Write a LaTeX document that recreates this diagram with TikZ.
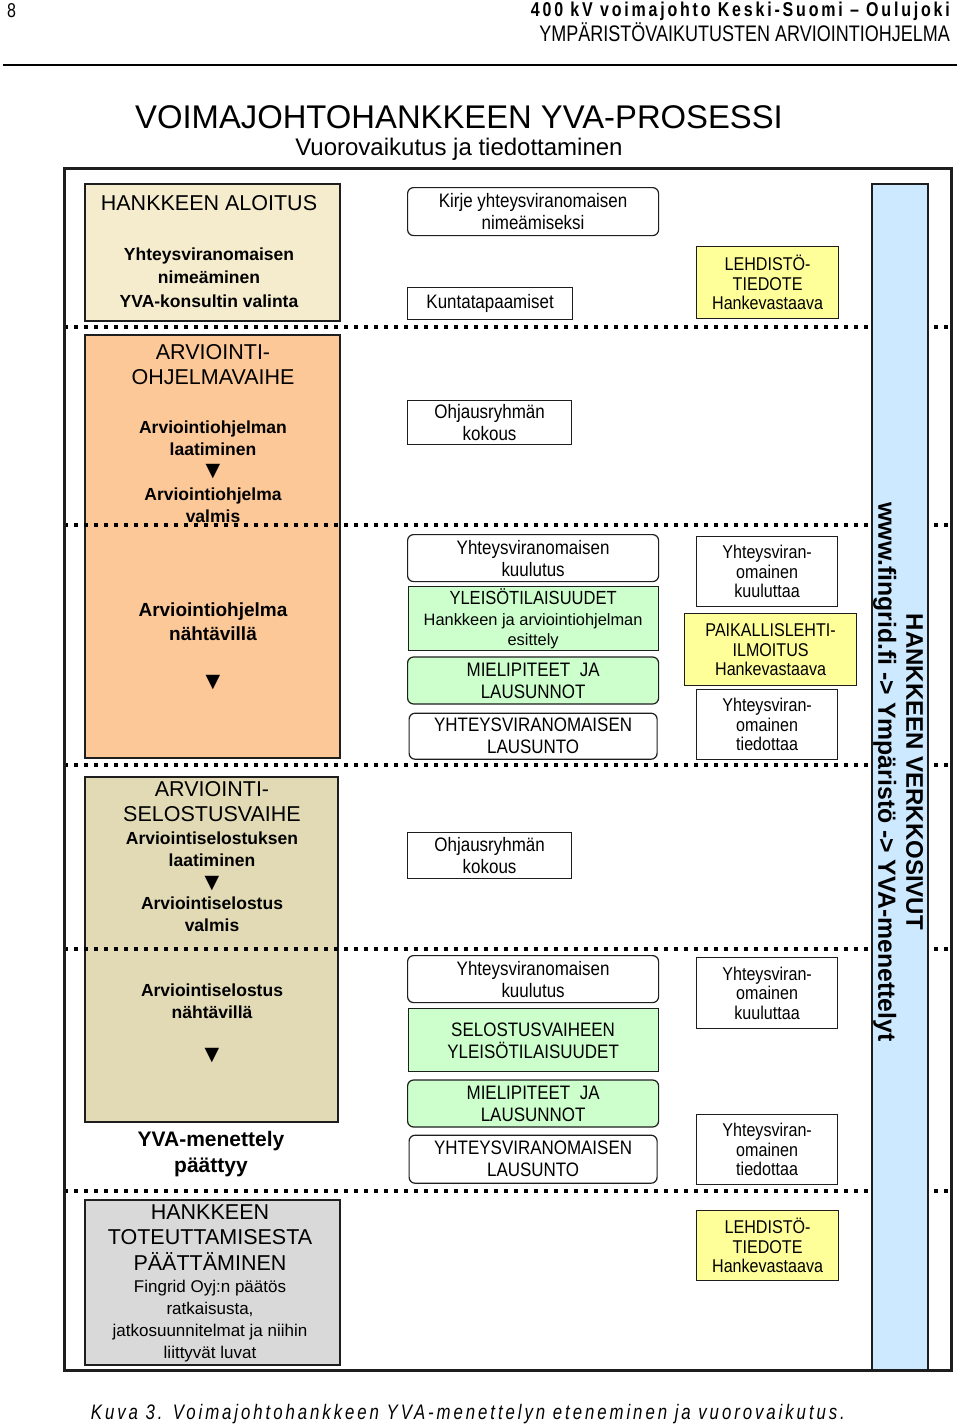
\documentclass[tikz,border=0pt]{standalone}
\usepackage{fontspec}
\setmainfont{Liberation Sans}
\newfontfamily\narrowsf[FakeStretch=0.87]{Liberation Sans}
\newfontfamily\headsf[FakeStretch=0.8]{Liberation Sans}
\newfontfamily\trifont{DejaVu Sans}
\usetikzlibrary{positioning}

\definecolor{aloituscol}{RGB}{245,236,206}
\definecolor{ohjelmacol}{RGB}{252,200,152}
\definecolor{selostuscol}{RGB}{226,218,180}
\definecolor{paatoscol}{RGB}{217,217,217}
\definecolor{yleisocol}{RGB}{204,255,204}
\definecolor{lehtcol}{RGB}{255,255,153}
\definecolor{webcol}{RGB}{204,233,255}
\definecolor{linecol}{RGB}{30,30,30}

\begin{document}
\begin{tikzpicture}[x=1pt,y=-1pt]
\tikzstyle{phase} = [rectangle, draw=linecol, line width=1.5pt, anchor=north west, inner sep=0pt]
\tikzstyle{event} = [rectangle, draw=linecol, line width=1.2pt, fill=white, anchor=north west, inner sep=0pt, text centered, align=center, font=\narrowsf\fontsize{19.5}{22}\selectfont]
\tikzstyle{roundevent} = [event, rounded corners=6pt]
\tikzstyle{notice} = [event, font=\narrowsf\fontsize{18.5}{19.5}\selectfont]
\tikzstyle{phasehead} = [align=center, inner sep=0pt, font=\fontsize{21.5}{25}\selectfont]
\tikzstyle{phasetext} = [align=center, inner sep=0pt, font=\bfseries\fontsize{17.5}{22}\selectfont]
\tikzstyle{flowtri} = [inner sep=0pt, font=\trifont\fontsize{19}{19}\selectfont]
\tikzstyle{separator} = [line width=4pt, dash pattern=on 4pt off 6pt]

\path[use as bounding box, fill=white] (0,0) rectangle (960,1427);

% page header
\node (pagenum) [anchor=west, inner sep=0pt, font=\headsf\fontsize{20}{22}\selectfont] at (7,11) {8};
\node (doctitle) [anchor=east, inner sep=0pt, font=\headsf\bfseries\fontsize{20}{22}\selectfont\addfontfeature{LetterSpace=14}] at (950,11) {400 kV voimajohto Keski-Suomi – Oulujoki};
\node (doctype) [anchor=east, inner sep=0pt, font=\headsf\fontsize{22.5}{24}\selectfont] at (950,32) {YMPÄRISTÖVAIKUTUSTEN ARVIOINTIOHJELMA};
\draw [line width=2pt] (3,65) -- (957,65);

% title
\node (title) [inner sep=0pt, font=\fontsize{32.8}{36}\selectfont] at (459,117) {VOIMAJOHTOHANKKEEN YVA-PROSESSI};
\node (subtitle) [inner sep=0pt, font=\fontsize{24}{26}\selectfont] at (459,149) {Vuorovaikutus ja tiedottaminen};

% phases
\node (aloitus) [phase, fill=aloituscol, minimum width=255pt, minimum height=137pt] at (84,183) {};
\node (ohjelma) [phase, fill=ohjelmacol, minimum width=255pt, minimum height=423pt] at (84,334) {};
\node (selostus) [phase, fill=selostuscol, minimum width=253pt, minimum height=345pt] at (84,776) {};
\node (paatos) [phase, fill=paatoscol, minimum width=255pt, minimum height=165pt] at (84,1199) {};

\foreach \y in {327,525,765,949,1191}
  \draw [separator] (64,\y) -- (951,\y);

\node (aloitushead) [phasehead] at (209,203) {HANKKEEN ALOITUS};
\node (aloitustext) [phasetext, font=\bfseries\fontsize{17.5}{23.5}\selectfont] at (209,277.5) {Yhteysviranomaisen\\nimeäminen\\YVA-konsultin valinta};

\node (ohjhead) [phasehead] at (213,364.5) {ARVIOINTI-\\OHJELMAVAIHE};
\node (ohjlaadinta) [phasetext] at (213,438) {Arviointiohjelman\\laatiminen};
\node (ohjtri1) [flowtri] at (213,472) {▼};
\node (ohjvalmis) [phasetext] at (213,505) {Arviointiohjelma\\valmis};
\node (ohjnahtavilla) [phasetext, font=\bfseries\fontsize{19}{24}\selectfont] at (213,622) {Arviointiohjelma\\nähtävillä};
\node (ohjtri2) [flowtri] at (213,683) {▼};

\node (selhead) [phasehead] at (212,801.5) {ARVIOINTI-\\SELOSTUSVAIHE};
\node (sellaadinta) [phasetext] at (212,849) {Arviointiselostuksen\\laatiminen};
\node (seltri1) [flowtri] at (212,884) {▼};
\node (selvalmis) [phasetext] at (212,914) {Arviointiselostus\\valmis};
\node (selnahtavilla) [phasetext] at (212,1001) {Arviointiselostus\\nähtävillä};
\node (seltri2) [flowtri] at (212,1056) {▼};

\node (yvaloppu) [phasetext, font=\bfseries\fontsize{21}{26}\selectfont] at (211,1154) {YVA-menettely\\päättyy};

\node (paatoshead) [phasehead, font=\fontsize{21.5}{25.5}\selectfont] at (210,1237.5) {HANKKEEN\\TOTEUTTAMISESTA\\PÄÄTTÄMINEN};
\node (paatostext) [align=center, inner sep=0pt, font=\fontsize{17}{22}\selectfont] at (210,1321) {Fingrid Oyj:n päätös\\ratkaisusta,\\jatkosuunnitelmat ja niihin\\liittyvät luvat};

% interaction
\node (kirje) [roundevent, minimum width=251pt, minimum height=48pt] at (407,187) {Kirje yhteysviranomaisen\\nimeämiseksi};
\node (kunta) [event, minimum width=165pt, minimum height=32pt] at (407,287) {Kuntatapaamiset};
\node (ohjaus1) [event, minimum width=164pt, minimum height=44pt] at (407,400) {Ohjausryhmän\\kokous};
\node (kuulutus1) [roundevent, minimum width=251pt, minimum height=47pt] at (407,534) {Yhteysviranomaisen\\kuulutus};
\node (yleiso1) [event, fill=yleisocol, minimum width=250pt, minimum height=64pt, below=4pt of kuulutus1, font=\narrowsf\fontsize{19}{20.5}\selectfont] {YLEISÖTILAISUUDET\\{\rmfamily\fontsize{16.4}{20}\selectfont Hankkeen ja arviointiohjelman}\\{\rmfamily\fontsize{16.4}{20}\selectfont esittely}};
\node (mielipide1) [roundevent, fill=yleisocol, minimum width=251pt, minimum height=47pt, below=5pt of yleiso1] {MIELIPITEET\ \ JA\\LAUSUNNOT};
\node (lausunto1) [roundevent, minimum width=248pt, minimum height=46pt, below=8pt of mielipide1] {YHTEYSVIRANOMAISEN\\LAUSUNTO};
\node (ohjaus2) [event, minimum width=164pt, minimum height=46pt] at (407,832) {Ohjausryhmän\\kokous};
\node (kuulutus2) [roundevent, minimum width=251pt, minimum height=47pt] at (407,955) {Yhteysviranomaisen\\kuulutus};
\node (yleiso2) [event, fill=yleisocol, minimum width=250pt, minimum height=63pt, below=5pt of kuulutus2] {SELOSTUSVAIHEEN\\YLEISÖTILAISUUDET};
\node (mielipide2) [roundevent, fill=yleisocol, minimum width=251pt, minimum height=47pt, below=7pt of yleiso2] {MIELIPITEET\ \ JA\\LAUSUNNOT};
\node (lausunto2) [roundevent, minimum width=248pt, minimum height=48pt, below=7pt of mielipide2] {YHTEYSVIRANOMAISEN\\LAUSUNTO};

% information
\node (tiedote1) [notice, fill=lehtcol, minimum width=142pt, minimum height=72pt] at (696,246) {LEHDISTÖ-\\TIEDOTE\\Hankevastaava};
\node (kuuluttaa1) [notice, minimum width=141pt, minimum height=70pt] at (696,536) {Yhteysviran-\\omainen\\kuuluttaa};
\node (paikallis) [notice, fill=lehtcol, minimum width=172pt, minimum height=72pt, below=6pt of kuuluttaa1, xshift=3.5pt] {PAIKALLISLEHTI-\\ILMOITUS\\Hankevastaava};
\node (tiedottaa1) [notice, minimum width=141pt, minimum height=70pt] at (696,689) {Yhteysviran-\\omainen\\tiedottaa};
\node (kuuluttaa2) [notice, minimum width=141pt, minimum height=71pt] at (696,957) {Yhteysviran-\\omainen\\kuuluttaa};
\node (tiedottaa2) [notice, minimum width=141pt, minimum height=70pt] at (696,1114) {Yhteysviran-\\omainen\\tiedottaa};
\node (tiedote2) [notice, fill=lehtcol, minimum width=142pt, minimum height=70pt] at (696,1210) {LEHDISTÖ-\\TIEDOTE\\Hankevastaava};

% web pages
\node (web) [phase, fill=webcol, minimum width=56pt, minimum height=1186pt] at (871,183) {};
\node (webtext) [rotate=-90, align=center, inner sep=0pt, font=\bfseries\fontsize{24}{28}\selectfont] at (898,772) {HANKKEEN VERKKOSIVUT\\{\fontsize{24.8}{28}\selectfont www.fingrid.fi -> Ympäristö -> YVA-menettelyt}};

\draw [linecol, line width=3pt] (64,168) rectangle (951,1370);

\node (caption) [inner sep=0pt, font=\headsf\itshape\fontsize{21}{23}\selectfont\addfontfeature{LetterSpace=14}] at (468,1414) {Kuva 3. Voimajohtohankkeen YVA-menettelyn eteneminen ja vuorovaikutus.};
\end{tikzpicture}
\end{document}
